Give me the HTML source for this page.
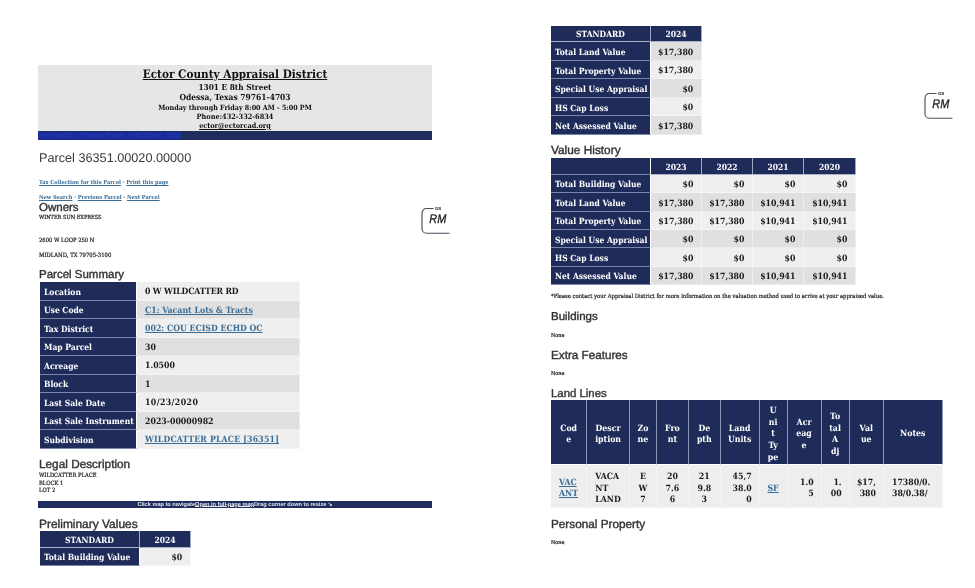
<!DOCTYPE html>
<html><head><meta charset="utf-8">
<style>
html,body{margin:0;padding:0;background:#fff;}
body{text-rendering:geometricPrecision;width:975px;height:588px;position:relative;overflow:hidden;font-family:"Liberation Serif",serif;color:#222;}
.abs{position:absolute;}
.h{position:absolute;font-family:"Liberation Sans",sans-serif;color:#333;-webkit-text-stroke:0.4px #333;white-space:nowrap;line-height:1;}
.t{position:absolute;font-family:"DejaVu Serif Condensed","Liberation Serif",serif;font-weight:bold;white-space:nowrap;line-height:1;color:#222;}
a{color:#3a6d96;text-decoration:underline;text-decoration-thickness:0.6px;text-underline-offset:0.8px;}
table{position:absolute;border-collapse:separate;border-spacing:0;font-family:"DejaVu Serif Condensed","Liberation Serif",serif;font-weight:bold;font-size:8.7px;table-layout:fixed;}
td,th{padding:0;margin:0;box-sizing:border-box;border-right:1.5px solid #fff;border-bottom:1.5px solid #fff;overflow:hidden;white-space:nowrap;line-height:1;vertical-align:middle;}
th{background:#1f2c5a;border-bottom-color:#7a86ac;color:#fff;text-align:left;padding-left:4px;padding-top:2.4px;font-weight:bold;font-size:8.45px;}
td{border-bottom-color:rgba(255,255,255,0.35);border-right-color:rgba(255,255,255,0.45);color:#1a1a1a;padding-left:8px;padding-top:4px;}
table.hist td.r{padding-right:7.5px;}
table.ll th{text-align:center;padding:4.5px 0 0 0;line-height:11.7px;font-size:8.7px;}
table.ll td{padding:4px 0 0 0;line-height:11.65px;text-align:center;background:#eee;}
table.ll th .w{position:relative;top:1.1px;}
table.ll td .w{position:relative;top:1.7px;}
table.ll td.l{text-align:left;padding-left:8px;}
table.ll td.rr{text-align:right;padding-right:7px;}
tr.a td{background:#efefef;}
tr.b td{background:#e0e0e0;}
td.r{text-align:right;padding-right:7.9px;padding-left:0;}
th.c{text-align:center;padding-left:0;padding-top:2px;border-right-color:#a0a8c2;border-bottom-color:#aab2cb;}
table.ll th{border-right-color:#8f98b5;border-bottom-color:#fff;}
</style></head><body>

<!-- header -->
<div class="abs" style="left:38px;top:65.4px;width:394px;height:66px;background:#e6e6e6;"></div>
<div class="abs" style="left:38px;top:130.5px;width:394px;height:9.6px;background:#1f2d5c;"></div>
<div class="abs" style="left:38px;top:131.6px;width:142px;height:8.2px;background:#1a2aa0;opacity:0.85;"></div>
<div class="t" style="left:39px;top:132.2px;font-size:6.4px;color:#2034ae;letter-spacing:-0.35px;-webkit-text-stroke:0.4px #2034ae;">New Search · Previous Parcel · Next Parcel · Print</div>
<div class="t" style="left:38px;width:394px;text-align:center;top:68.9px;font-size:11.66px;color:#111;text-decoration:underline;">Ector County Appraisal District</div>
<div class="t" style="left:38px;width:394px;text-align:center;top:82.5px;font-size:8.2px;color:#111;">1301 E 8th Street</div>
<div class="t" style="left:38px;width:394px;text-align:center;top:93px;font-size:8.4px;color:#111;">Odessa, Texas 79761-4703</div>
<div class="t" style="left:38px;width:394px;text-align:center;top:103.5px;font-size:7.12px;color:#111;">Monday through Friday 8:00 AM - 5:00 PM</div>
<div class="t" style="left:38px;width:394px;text-align:center;top:113px;font-size:7.33px;color:#111;">Phone:432-332-6834</div>
<div class="t" style="left:38px;width:394px;text-align:center;top:122px;font-size:7.26px;color:#111;text-decoration:underline;">ector@ectorcad.org</div>

<div class="h" style="left:39px;top:152.4px;font-size:12.68px;-webkit-text-stroke:0;color:#3a3a3a;">Parcel 36351.00020.00000</div>

<div class="t" style="left:39px;top:181px;font-size:5.61px;"><a>Tax Collection for this Parcel</a> · <a>Print this page</a></div>
<div class="t" style="left:39px;top:196px;font-size:5.61px;"><a>New Search</a> · <a>Previous Parcel</a> · <a>Next Parcel</a></div>
<div class="h" style="left:39px;top:202.7px;font-size:11.5px;">Owners</div>
<div class="t" style="left:39px;top:216.4px;font-size:5.6px;font-weight:normal;-webkit-text-stroke:0.2px #222;">WINTER SUN EXPRESS</div>
<div class="t" style="left:39px;top:239.2px;font-size:5.8px;font-weight:normal;-webkit-text-stroke:0.2px #222;">2600 W LOOP 250 N</div>
<div class="t" style="left:39px;top:254.2px;font-size:5.9px;font-weight:normal;-webkit-text-stroke:0.2px #222;">MIDLAND, TX 79705-3100</div>

<div class="h" style="left:39px;top:269.9px;font-size:11.5px;">Parcel Summary</div>
<table style="left:40px;top:282px;width:260px;">
<colgroup><col style="width:97px"><col style="width:163px"></colgroup>
<tr class="a" style="height:18.5px"><th>Location</th><td style="letter-spacing:-0.15px">0 W WILDCATTER RD</td></tr>
<tr class="b" style="height:18.5px"><th>Use Code</th><td><a>C1: Vacant Lots &amp; Tracts</a></td></tr>
<tr class="a" style="height:18.5px"><th>Tax District</th><td><a>002: COU ECISD ECHD OC</a></td></tr>
<tr class="b" style="height:18.5px"><th>Map Parcel</th><td>30</td></tr>
<tr class="a" style="height:18.5px"><th>Acreage</th><td>1.0500</td></tr>
<tr class="b" style="height:18.5px"><th>Block</th><td>1</td></tr>
<tr class="a" style="height:18.5px"><th>Last Sale Date</th><td style="letter-spacing:0.4px">10/23/2020</td></tr>
<tr class="b" style="height:18.5px"><th>Last Sale Instrument</th><td>2023-00000982</td></tr>
<tr class="a" style="height:18.5px"><th>Subdivision</th><td style="letter-spacing:0.17px"><a>WILDCATTER PLACE [36351]</a></td></tr>
</table>

<div class="h" style="left:39px;top:459.3px;font-size:11.8px;">Legal Description</div>
<div class="t" style="left:39px;top:474.4px;font-size:5.8px;font-weight:normal;-webkit-text-stroke:0.2px #222;">WILDCATTER PLACE</div>
<div class="t" style="left:39px;top:482px;font-size:5.8px;font-weight:normal;-webkit-text-stroke:0.2px #222;">BLOCK 1</div>
<div class="t" style="left:39px;top:489.2px;font-size:5.8px;font-weight:normal;-webkit-text-stroke:0.2px #222;">LOT 2</div>

<div class="abs" style="left:38px;top:500.7px;width:394px;height:7px;background:#1f2d5c;"></div>
<div class="t" style="left:38px;width:394px;text-align:center;top:503.4px;font-size:5.61px;color:#e4e6ee;font-family:'Liberation Sans',sans-serif;">Click map to navigate<span style="text-decoration:underline;text-decoration-thickness:0.5px;text-underline-offset:0.2px">Open in full-page map</span>Drag corner down to resize ↘</div>

<div class="h" style="left:39px;top:518.6px;font-size:11.95px;">Preliminary Values</div>
<table style="left:40px;top:531.3px;width:151.2px;">
<colgroup><col style="width:100px"><col style="width:51.2px"></colgroup>
<tr style="height:16.3px"><th class="c">STANDARD</th><th class="c">2024</th></tr>
<tr class="a" style="height:18.5px"><th>Total Building Value</th><td class="r">$0</td></tr>
</table>

<!-- right page -->
<table style="left:551px;top:26px;width:151.2px;">
<colgroup><col style="width:100px"><col style="width:51.2px"></colgroup>
<tr style="height:16.3px"><th class="c">STANDARD</th><th class="c">2024</th></tr>
<tr class="b" style="height:18.5px"><th>Total Land Value</th><td class="r">$17,380</td></tr>
<tr class="a" style="height:18.5px"><th>Total Property Value</th><td class="r">$17,380</td></tr>
<tr class="b" style="height:18.5px"><th>Special Use Appraisal</th><td class="r">$0</td></tr>
<tr class="a" style="height:18.5px"><th>HS Cap Loss</th><td class="r">$0</td></tr>
<tr class="b" style="height:18.5px"><th>Net Assessed Value</th><td class="r">$17,380</td></tr>
</table>

<div class="h" style="left:551px;top:145.1px;font-size:11.85px;">Value History</div>
<table class="hist" style="left:551px;top:158px;width:305px;">
<colgroup><col style="width:100px"><col style="width:51px"><col style="width:51px"><col style="width:51px"><col style="width:52px"></colgroup>
<tr style="height:16.8px"><th></th><th class="c">2023</th><th class="c">2022</th><th class="c">2021</th><th class="c">2020</th></tr>
<tr class="a" style="height:18.38px"><th>Total Building Value</th><td class="r">$0</td><td class="r">$0</td><td class="r">$0</td><td class="r">$0</td></tr>
<tr class="b" style="height:18.38px"><th>Total Land Value</th><td class="r">$17,380</td><td class="r">$17,380</td><td class="r">$10,941</td><td class="r">$10,941</td></tr>
<tr class="a" style="height:18.38px"><th>Total Property Value</th><td class="r">$17,380</td><td class="r">$17,380</td><td class="r">$10,941</td><td class="r">$10,941</td></tr>
<tr class="b" style="height:18.38px"><th>Special Use Appraisal</th><td class="r">$0</td><td class="r">$0</td><td class="r">$0</td><td class="r">$0</td></tr>
<tr class="a" style="height:18.38px"><th>HS Cap Loss</th><td class="r">$0</td><td class="r">$0</td><td class="r">$0</td><td class="r">$0</td></tr>
<tr class="b" style="height:18.38px"><th>Net Assessed Value</th><td class="r">$17,380</td><td class="r">$17,380</td><td class="r">$10,941</td><td class="r">$10,941</td></tr>
</table>
<div class="t" style="left:551px;top:295.4px;font-size:5.85px;font-weight:normal;-webkit-text-stroke:0.2px #222;">*Please contact your Appraisal District for more information on the valuation method used to arrive at your appraised value.</div>

<div class="h" style="left:551px;top:312px;font-size:11.5px;">Buildings</div>
<div class="t" style="left:551px;top:333.7px;font-size:5.5px;font-weight:normal;-webkit-text-stroke:0.2px #222;">None</div>
<div class="h" style="left:551px;top:349.5px;font-size:11.7px;">Extra Features</div>
<div class="t" style="left:551px;top:372.1px;font-size:5.5px;font-weight:normal;-webkit-text-stroke:0.2px #222;">None</div>
<div class="h" style="left:551px;top:388.7px;font-size:11.4px;">Land Lines</div>

<table class="ll" style="left:551px;top:400px;width:391.5px;">
<colgroup><col style="width:36.3px"><col style="width:42.6px"><col style="width:27px"><col style="width:32px"><col style="width:31.8px"><col style="width:38.9px"><col style="width:28px"><col style="width:34px"><col style="width:28px"><col style="width:34.4px"><col style="width:58.5px"></colgroup>
<tr style="height:65px"><th><div class="w">Cod<br>e</div></th><th><div class="w">Descr<br>iption</div></th><th><div class="w">Zo<br>ne</div></th><th><div class="w">Fro<br>nt</div></th><th><div class="w">De<br>pth</div></th><th><div class="w">Land<br>Units</div></th><th><div class="w">U<br>ni<br>t<br>Ty<br>pe</div></th><th><div class="w">Acr<br>eag<br>e</div></th><th><div class="w">To<br>tal<br>A<br>dj</div></th><th><div class="w">Val<br>ue</div></th><th><div class="w">Notes</div></th></tr>
<tr style="height:42.5px"><td class="l"><div class="w"><a>VAC<br>ANT</a></div></td><td class="l"><div class="w">VACA<br>NT<br>LAND</div></td><td><div class="w">E<br>W<br>7</div></td><td><div class="w">20<br>7.6<br>6</div></td><td><div class="w">21<br>9.8<br>3</div></td><td class="rr"><div class="w">45,7<br>38.0<br>0</div></td><td><div class="w"><a>SF</a></div></td><td class="rr"><div class="w">1.0<br>5</div></td><td class="rr"><div class="w">1.<br>00</div></td><td class="rr"><div class="w">$17,<br>380</div></td><td class="l"><div class="w">17380/0.<br>38/0.38/</div></td></tr>
</table>
<div class="h" style="left:551px;top:518.5px;font-size:11.75px;">Personal Property</div>
<div class="t" style="left:551px;top:540.5px;font-size:5.5px;font-weight:normal;-webkit-text-stroke:0.2px #222;">None</div>

<svg class="abs" style="left:420.5px;top:206px;overflow:visible;" width="32" height="30" viewBox="0 0 32 30"><path d="M12.5,2.5 H5.5 A4.5,4.5 0 0 0 1,7 V22.7 A4.5,4.5 0 0 0 5.5,27.2 H28.5" fill="none" stroke="#46505c" stroke-width="1.15"/><text x="14.2" y="4.4" font-family="Liberation Sans, sans-serif" font-weight="bold" font-size="4.4" fill="#222">DS</text><text x="8.3" y="17.3" font-family="Liberation Sans, sans-serif" font-style="italic" font-size="12.5" textLength="17" lengthAdjust="spacingAndGlyphs" fill="#1a1a1a" stroke="#1a1a1a" stroke-width="0.3">RM</text></svg>
<svg class="abs" style="left:923.8px;top:90.6px;overflow:visible;" width="32" height="30" viewBox="0 0 32 30"><path d="M12.5,2.5 H5.5 A4.5,4.5 0 0 0 1,7 V22.7 A4.5,4.5 0 0 0 5.5,27.2 H28.5" fill="none" stroke="#46505c" stroke-width="1.15"/><text x="14.2" y="4.4" font-family="Liberation Sans, sans-serif" font-weight="bold" font-size="4.4" fill="#222">DS</text><text x="8.3" y="17.3" font-family="Liberation Sans, sans-serif" font-style="italic" font-size="12.5" textLength="17" lengthAdjust="spacingAndGlyphs" fill="#1a1a1a" stroke="#1a1a1a" stroke-width="0.3">RM</text></svg>
</body></html>
